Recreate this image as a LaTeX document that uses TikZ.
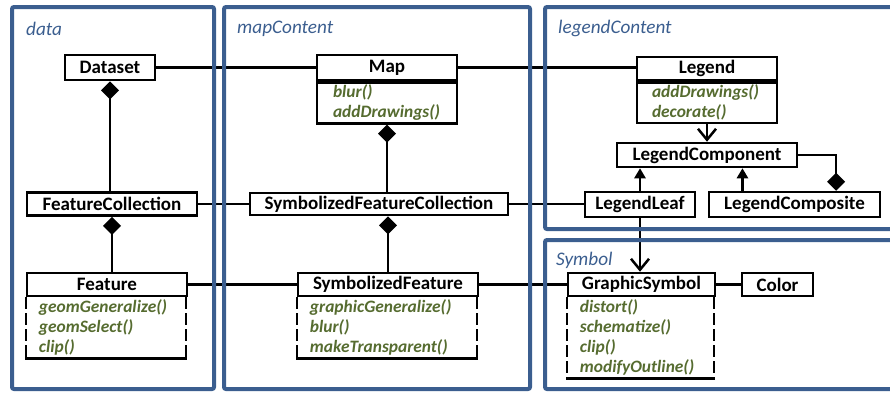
\documentclass[tikz,border=0pt]{standalone}
\usepackage{fontspec}
\setmainfont{Carlito}
\usetikzlibrary{arrows.meta,calc}
\definecolor{pkgblue}{RGB}{59,94,143}
\definecolor{opgreen}{RGB}{86,108,48}
\tikzset{
  pkg/.style={draw=pkgblue, line width=4pt, rounded corners=2pt},
  pkgname/.style={anchor=base west, inner sep=0pt, text=pkgblue, font=\fontsize{19.2}{21}\selectfont\itshape},
  cls/.style={draw, line width=2.5pt, fill=white, inner sep=0pt, font=\fontsize{19}{21}\selectfont\bfseries},
  ops/.style={anchor=north west, inner xsep=13pt, inner ysep=2.5pt, align=left, text=opgreen, font=\fontsize{17.4}{20}\selectfont\bfseries\itshape},
  link/.style={line width=2.5pt},
  comp/.style={link, -{Diamond[length=18pt,width=18pt]}},
  isa/.style={link, -{Triangle[length=10pt,width=11pt]}},
  uses/.style={link, -{Straight Barb[length=11pt,width=18pt]}},
  dashside/.style={line width=2.5pt, dash pattern=on 12pt off 4pt}
}
\begin{document}
\begin{tikzpicture}[x=1pt, y=-1pt]
    \useasboundingbox (0,0) rectangle (890,392);

    % Package data
    \node[cls, minimum width=90pt, minimum height=25pt] (dataset) at (110,67.5) {Dataset};
    \node[cls, minimum width=170pt, minimum height=23pt] (featcoll) at (112,204) {FeatureCollection};
    \node[cls, minimum width=160pt, minimum height=23pt] (feature) at (107,284.5) {Feature};
    \node[ops, text width=134pt] (featureops) at (feature.south west) {geomGeneralize()\\geomSelect()\\clip()};

    % Package mapContent
    \node[cls, minimum width=140pt, minimum height=25pt] (map) at (387,67.5) {Map};
    \node[ops, draw, line width=2.5pt, inner xsep=16pt, text width=108pt] (mapops) at (map.south west) {blur()\\addDrawings()};
    \node[cls, minimum width=258pt, minimum height=22pt] (symfeatcoll) at (379,204) {SymbolizedFeatureCollection};
    \node[cls, minimum width=180pt, minimum height=23pt] (symfeat) at (388,284.5) {SymbolizedFeature};
    \node[ops, text width=154pt] (symfeatops) at (symfeat.south west) {graphicGeneralize()\\blur()\\makeTransparent()};

    % Package legendContent
    \node[cls, minimum width=140pt, minimum height=23pt] (legend) at (707,68.5) {Legend};
    \node[ops, draw, line width=2.5pt, inner xsep=15pt, text width=110pt] (legendops) at (legend.south west) {addDrawings()\\decorate()};
    \node[cls, minimum width=180pt, minimum height=24pt] (legcomp) at (707,155) {LegendComponent};
    \node[cls, minimum width=110pt, minimum height=25pt] (legleaf) at (640,204.5) {LegendLeaf};
    \node[cls, minimum width=171pt, minimum height=25pt] (legcomposite) at (794.5,204.5) {LegendComposite};

    % Package Symbol
    \node[cls, minimum width=147pt, minimum height=23pt] (graphsym) at (641.5,284.5) {GraphicSymbol};
    \node[ops, text width=121pt] (graphsymops) at (graphsym.south west) {distort()\\schematize()\\clip()\\modifyOutline()};
    \node[cls, minimum width=71pt, minimum height=23pt] (color) at (777.5,284.5) {Color};

    % Method compartments with broken sides
    \foreach \o in {featureops, symfeatops, graphsymops} {
        \draw[link, line cap=rect] (\o.south west) -- (\o.south east);
        \draw[dashside] (\o.north west) -- (\o.south west) (\o.north east) -- (\o.south east);
    }

    % Associations across packages
    \draw[link] (dataset) -- (map);
    \draw[link] (map.east) -- (legend.west |- map.east);
    \draw[link] (featcoll) -- (symfeatcoll);
    \draw[link] (symfeatcoll.east) -- (legleaf.west |- symfeatcoll.east);
    \draw[link] (feature) -- (symfeat);
    \draw[link] (symfeat) -- (graphsym);
    \draw[link] (graphsym) -- (color);

    % Compositions
    \draw[comp] (featcoll.north -| dataset.south) -- (dataset.south);
    \draw[comp] (feature.north -| featcoll.south) -- (featcoll.south);
    \draw[comp] (symfeatcoll.north -| mapops.south) -- (mapops.south);
    \draw[comp] (symfeat.north) -- (symfeat.north |- symfeatcoll.south);

    % Legend part: composite pattern
    \coordinate (isafoot) at ($(legcomposite.north west)!0.2!(legcomposite.north east)$);
    \coordinate (compfoot) at ($(legcomposite.north west)!0.74!(legcomposite.north east)$);
    \draw[uses] (legendops.south) -- (legendops.south |- legcomp.north);
    \draw[isa] (legleaf.north) -- (legleaf.north |- legcomp.south);
    \draw[isa] (isafoot) -- (isafoot |- legcomp.south);
    \draw[comp] (legcomp.east) -| (compfoot);
    \draw[uses] (legleaf.south) -- (legleaf.south |- graphsym.north);

    % Package frames and names
    \draw[pkg] (12,7) rectangle (214,389);
    \draw[pkg] (224,7) rectangle (530,389);
    \draw[pkg] (545,7) rectangle (900,229);
    \draw[pkg] (545,240) rectangle (900,389);
    \node[pkgname] (datalbl) at (26,35) {data};
    \node[pkgname] (maplbl) at (237,33) {mapContent};
    \node[pkgname] (legendlbl) at (558,33) {legendContent};
    \node[pkgname] (symbollbl) at (556,265) {Symbol};

\end{tikzpicture}
\end{document}
